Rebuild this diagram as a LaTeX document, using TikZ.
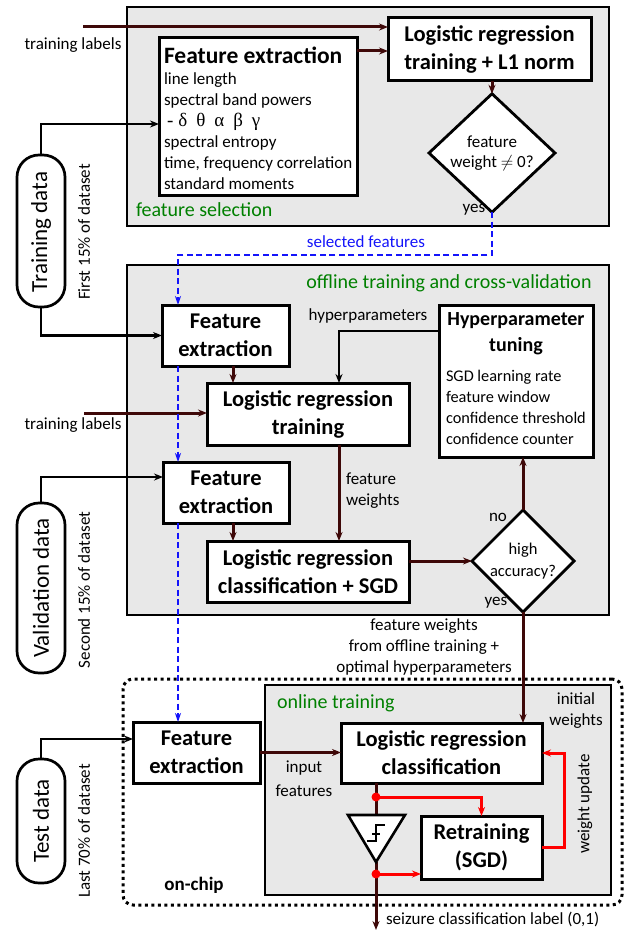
\documentclass[tikz,border=0pt]{standalone}
\usepackage{fontspec}
\setmainfont{Carlito}
\newfontfamily\grk{Liberation Serif}
\usetikzlibrary{arrows.meta,shapes.geometric,calc}
\definecolor{brn}{RGB}{62,8,8}
\definecolor{gfill}{RGB}{232,232,232}
\definecolor{grn}{RGB}{0,128,0}
\definecolor{blu}{RGB}{20,20,250}
\tikzset{
  every node/.style={font=\fontsize{17}{21}\selectfont, inner sep=0pt, outer sep=0pt},
  box/.style={draw, line width=3pt, fill=white, align=center, font=\bfseries\fontsize{22.5}{28}\selectfont},
  region/.style={draw, line width=2.8pt, fill=gfill},
  chipbox/.style={draw, line width=3pt, dash pattern=on 3pt off 3.5pt, rounded corners=10pt},
  pill/.style={draw, line width=2.7pt, rounded corners=22pt, fill=white},
  pilltxt/.style={rotate=90, font=\fontsize{23}{23}\selectfont},
  dstxt/.style={rotate=90, font=\fontsize{17}{17}\selectfont},
  dia/.style={diamond, draw, line width=2.8pt, fill=white, align=center, inner sep=0pt},
  grnlbl/.style={text=grn, font=\fontsize{20}{22}\selectfont},
  arr/.style={brn, line width=3pt, -{Stealth[length=9pt,width=7pt]}},
  brnline/.style={brn, line width=3pt},
  blk/.style={black, line width=2.6pt, -{Stealth[length=9pt,width=7pt]}},
  bl/.style={blu, line width=2.8pt, dash pattern=on 6pt off 3.5pt, -{Stealth[length=9pt,width=6pt]}},
  rd/.style={red, line width=3pt, -{Stealth[length=9pt,width=7pt]}},
}
\begin{document}
\begin{tikzpicture}[x=1pt,y=-1pt]
\useasboundingbox (0,0) rectangle (624,931);
% regions
\node[region, minimum width=482, minimum height=219] (gsel) at (368,116.5) {};
\node[region, minimum width=482, minimum height=350] (gmid) at (368,440) {};
\node[chipbox, minimum width=499, minimum height=226] (chip) at (372.5,792) {};
\node[region, minimum width=346, minimum height=210] (gon) at (438,790) {};
\node[grnlbl, anchor=west] (lsel) at (136,210) {feature selection};
\node[grnlbl] (lmid) at (449,283) {offline training and cross-validation};
\node[grnlbl, anchor=west] (lon) at (277,703) {online training};
\node[font=\bfseries\fontsize{19}{19}\selectfont] (lchip) at (194,885) {on-chip};

% data pills
\node[pill, minimum width=48, minimum height=152] (tr) at (41,231) {};
\node[pilltxt] (trt) at (41,232) {Training data};
\node[dstxt] (trd) at (84,232) {First 15\% of dataset};
\node[pill, minimum width=48, minimum height=170] (va) at (41,588) {};
\node[pilltxt] (vat) at (41,588) {Validation data};
\node[dstxt] (vad) at (84,590) {Second 15\% of dataset};
\node[pill, minimum width=48, minimum height=124] (te) at (41,821) {};
\node[pilltxt] (tet) at (41,821) {Test data};
\node[dstxt] (ted) at (84,831) {Last 70\% of dataset};

% feature selection
\node[box, minimum width=198, minimum height=157] (fe1) at (258,116.5) {};
\node[align=left, anchor=west] (fe1t) at (164,118) {{\bfseries\fontsize{23.5}{21}\selectfont Feature extraction}\\ line length\\ spectral band powers\\ {\grk\fontsize{19}{21}\selectfont\hspace{3pt}-\hspace{5pt}δ\hspace{9pt}θ\hspace{9pt}α\hspace{9pt}β\hspace{9pt}γ}\\ spectral entropy\\ time, frequency correlation\\ standard moments};
\node[box, minimum width=203, minimum height=63] (lr1) at (489.5,49.5) {Logistic regression\\training + L1 norm};
\node[dia, minimum width=126, minimum height=98, font=\fontsize{17}{19}\selectfont] (d1) at (492,153) {feature\\[1pt]weight $\neq$ 0?};
\node (yes1) at (474,210) {yes};
\node (tl1t) at (73,45) {training labels};
\coordinate (tl1) at (83,27);
\draw[arr] (tl1) -- (tl1 -| lr1.west);
\coordinate (a1) at ($(fe1.north east)+(0,13)$);
\draw[arr] (a1) -- (a1 -| lr1.west);
\draw[arr] (d1.north |- lr1.south) -- (d1.north);

% middle
\node[box, minimum width=127, minimum height=61] (fe2) at (225.5,335.5) {Feature\\extraction};
\node[box, minimum width=202, minimum height=62] (lr2) at (308,414) {Logistic regression\\training};
\node[box, minimum width=154, minimum height=152] (hp) at (516,381) {};
\node[font=\bfseries\fontsize{20}{26}\selectfont, align=center] (hpt) at (516,334) {Hyperparameter\\tuning};
\node[anchor=west, align=left, font=\fontsize{16.3}{21}\selectfont] (hpl) at (446,407) {SGD learning rate\\feature window\\confidence threshold\\confidence counter};
\node[box, minimum width=126, minimum height=61] (fe3) at (226,492.5) {Feature\\extraction};
\node[box, minimum width=202, minimum height=61] (lr3) at (308,571.5) {Logistic regression\\classification + SGD};
\node[dia, minimum width=100, minimum height=84, font=\fontsize{16.5}{22}\selectfont] (d2) at (523,561) {high\\accuracy?};
\node (no2) at (498,517) {no};
\node (yes2) at (496,603) {yes};
\node (hyl) at (368,316) {hyperparameters};
\node[anchor=west, align=left] (fwl) at (346,491) {feature\\weights};
\node (tl2t) at (73,425) {training labels};
\node[align=center] (fwo) at (424,647) {feature weights\\from offline training +\\optimal hyperparameters};
\node[text=blu] (sfl) at (366,242) {selected features};

\coordinate (xa) at (233,0);
\coordinate (xh) at (339,0);
\coordinate (hy) at (0,331);
\coordinate (tl2) at (84,413);
\draw[arr] (xa |- fe2.south) -- (xa |- lr2.north);
\draw[arr] (xa |- fe3.south) -- (xa |- lr3.north);
\draw[arr] (tl2) -- (tl2 -| lr2.west);
\draw[blk] (hp.west |- hy) -| (xh |- lr2.north);
\draw[arr] (xh |- lr2.south) -- (xh |- lr3.north);
\draw[arr] (lr3.east |- d2.west) -- (d2.west);
\draw[arr] (d2.north) -- (d2.north |- hp.south);

% on-chip
\node[box, minimum width=127, minimum height=61] (fe4) at (196.5,752.5) {Feature\\extraction};
\node[box, minimum width=201, minimum height=60] (lr4) at (441.5,753) {Logistic regression\\classification};
\node[box, minimum width=121, minimum height=63] (rt) at (481.5,847.5) {Retraining\\(SGD)};
\node[align=center, font=\fontsize{17}{24}\selectfont] (inf) at (304,779) {input\\features};
\node[align=center] (iw) at (576,711) {initial\\weights};
\node[rotate=90] (wu) at (585,804) {weight update};
\node[anchor=west] (outl) at (386,919) {seizure classification label (0,1)};
\draw[arr] (d2.south) -- (d2.south |- lr4.north);
\draw[arr] (fe4.east) -- (fe4.east -| lr4.west);

\coordinate (xc) at (376,0);
\coordinate (tT) at (376,815);
\coordinate (tB) at (376,862);
\coordinate (dot1) at (376,797);
\coordinate (dot2) at (376,874);
\coordinate (outp) at (376,930);
\coordinate (wx) at (564,0);
\draw[brnline] (xc |- lr4.south) -- (tT);
\draw[arr] (tB) -- (outp);
\draw[line width=2.6pt, fill=white, line join=miter] (348,815) -- (405,815) -- (tB) -- cycle;
\draw[line width=2.2pt] (367,841) -- (376,841) -- (376,825) -- (385,825) (372,834) -- (380,834);
\draw[rd] (dot1) -| (rt.north);
\draw[rd] (dot2) -- (dot2 -| rt.west);
\fill[red] (dot1) circle (4.5);
\fill[red] (dot2) circle (4.5);
\draw[rd] (rt.east) -- (wx |- rt.east) -- (wx |- lr4.east) -- (lr4.east);

% data lines
\coordinate (t1) at (41,124);
\coordinate (v1) at (41,477);
\coordinate (te1) at (41,739);
\draw[blk] (tr.north) -- (t1) -- (t1 -| fe1.west);
\draw[blk] (tr.south) |- (fe2.west);
\draw[blk] (va.north) -- (v1) -- (v1 -| fe3.west);
\draw[blk] (te.north) -- (te1) -- (te1 -| fe4.west);

% blue selected features
\coordinate (b1) at (492,255);
\coordinate (b2) at (178,255);
\draw[bl] (d1.south) -- (b1) -- (b2) -- (b2 |- fe2.north);
\draw[bl] (b2 |- fe2.south) -- (b2 |- fe3.north);
\draw[bl] (b2 |- fe3.south) -- (b2 |- fe4.north);
\end{tikzpicture}
\end{document}
